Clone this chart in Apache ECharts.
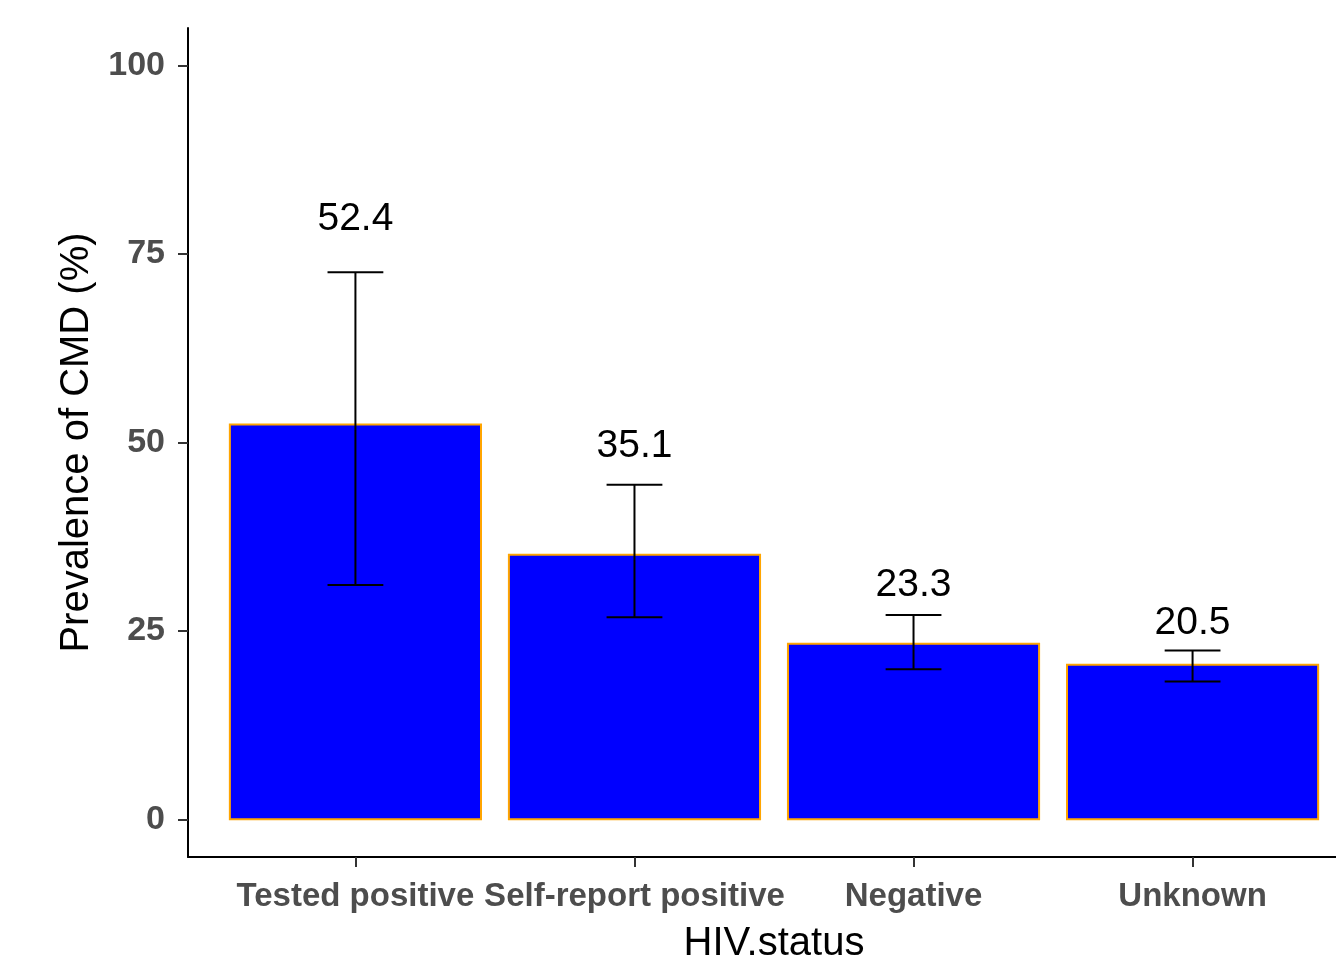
<!DOCTYPE html>
<html>
<head>
<meta charset="utf-8">
<title>Prevalence of CMD by HIV status</title>
<script src="https://cdn.jsdelivr.net/npm/echarts@6/dist/echarts.min.js"></script>
<style>
  html, body { margin: 0; padding: 0; background: #ffffff; }
  #chart { width: 1336px; height: 955px; }
</style>
</head>
<body>
<div id="chart"></div>
<script>
// HIV status groups and CMD prevalence (%) with confidence limits
const categories = ['Tested positive', 'Self-report positive', 'Negative', 'Unknown'];
const prevalence = [52.4, 35.1, 23.3, 20.5];
const lowerCI = [31.1, 26.8, 19.9, 18.3];
const upperCI = [72.6, 44.4, 27.1, 22.4];
const yTicks = [0, 25, 50, 75, 100];

const xPositions = categories.map((_, i) => i + 1);

const chart = echarts.init(document.getElementById('chart'), null, { renderer: 'canvas' });

const tickFont = {
  fontFamily: '"Liberation Sans", Arial, sans-serif',
  fontWeight: 'bold',
  color: '#4D4D4D'
};

// Width in pixels of one category slot on the x scale
function slotWidth(api) {
  return Math.abs(api.coord([2, 0])[0] - api.coord([1, 0])[0]);
}

const option = {
  animation: false,
  backgroundColor: '#ffffff',
  grid: { left: 188, top: 28, right: -24, bottom: 98, containLabel: false, outerBoundsMode: 'none' },
  xAxis: {
    type: 'value',
    min: 0.4,
    max: 4.6,
    splitLine: { show: false },
    axisLine: { show: true, onZero: false, lineStyle: { color: '#000000', width: 2 } },
    axisTick: { show: true, length: 10, customValues: xPositions, lineStyle: { color: '#333333', width: 2 } },
    axisLabel: Object.assign({
      customValues: xPositions,
      fontSize: 33,
      margin: 23,
      formatter: v => categories[Math.round(v) - 1] || ''
    }, tickFont),
    name: 'HIV.status',
    nameLocation: 'middle',
    nameGap: 67,
    nameTextStyle: { fontFamily: '"Liberation Sans", Arial, sans-serif', fontSize: 40, color: '#000000' }
  },
  yAxis: {
    type: 'value',
    min: -5,
    max: 105,
    splitLine: { show: false },
    axisLine: { show: true, onZero: false, lineStyle: { color: '#000000', width: 2 } },
    axisTick: { show: true, length: 10, customValues: yTicks, lineStyle: { color: '#333333', width: 2 } },
    axisLabel: Object.assign({ customValues: yTicks, fontSize: 34, margin: 23 }, tickFont),
    name: 'Prevalence of CMD (%)',
    nameLocation: 'middle',
    nameGap: 82,
    nameRotate: 90,
    nameTextStyle: { fontFamily: '"Liberation Sans", Arial, sans-serif', fontSize: 40, color: '#000000' }
  },
  series: [
    {
      name: 'Prevalence',
      type: 'custom',
      renderItem: function (params, api) {
        const x = api.value(0);
        const v = api.value(1);
        const w = slotWidth(api) * 0.9;
        const top = api.coord([x, v]);
        const base = api.coord([x, 0]);
        return {
          type: 'rect',
          shape: { x: top[0] - w / 2, y: top[1], width: w, height: base[1] - top[1] },
          style: { fill: '#0000FF', stroke: '#FFA500', lineWidth: 2 }
        };
      },
      data: xPositions.map((x, i) => [x, prevalence[i]]),
      z: 2
    },
    {
      name: 'CI',
      type: 'custom',
      renderItem: function (params, api) {
        const x = api.value(0);
        const lo = api.value(1);
        const hi = api.value(2);
        const v = api.value(3);
        const cap = slotWidth(api) * 0.2;
        const pLo = api.coord([x, lo]);
        const pHi = api.coord([x, hi]);
        const pLabel = api.coord([x, hi * 1.07 + 2]);
        const stroke = { stroke: '#000000', lineWidth: 2 };
        return {
          type: 'group',
          children: [
            { type: 'line', shape: { x1: pLo[0], y1: pLo[1], x2: pHi[0], y2: pHi[1] }, style: stroke },
            { type: 'line', shape: { x1: pHi[0] - cap / 2, y1: pHi[1], x2: pHi[0] + cap / 2, y2: pHi[1] }, style: stroke },
            { type: 'line', shape: { x1: pLo[0] - cap / 2, y1: pLo[1], x2: pLo[0] + cap / 2, y2: pLo[1] }, style: stroke },
            {
              type: 'text',
              x: pLabel[0],
              y: pLabel[1],
              style: {
                text: v.toFixed(1),
                fill: '#000000',
                font: '39px "Liberation Sans", Arial, sans-serif',
                align: 'center',
                verticalAlign: 'middle'
              }
            }
          ]
        };
      },
      data: xPositions.map((x, i) => [x, lowerCI[i], upperCI[i], prevalence[i]]),
      z: 3
    }
  ]
};

chart.setOption(option);
</script>
</body>
</html>
